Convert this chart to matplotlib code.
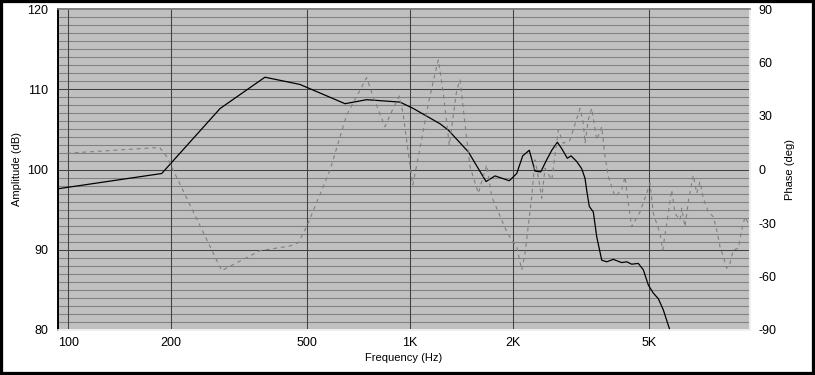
import numpy as np
import matplotlib
matplotlib.use("Agg")
import matplotlib.pyplot as plt
from matplotlib.patches import Rectangle

plt.rcParams['font.family'] = ['Liberation Sans', 'DejaVu Sans']
plt.rcParams['axes.unicode_minus'] = False

# amplitude response (dB), solid black
amp_f = [93.3, 187.6, 278, 376, 476, 645, 746, 934, 1022, 1223, 1294, 1480, 1584,
         1668, 1772, 1951, 2051, 2135, 2232, 2319, 2411, 2509, 2597, 2696, 2777,
         2884, 2957, 3072, 3177, 3249, 3286, 3344, 3436, 3516, 3636, 3761, 3931,
         4159, 4302, 4449, 4651, 4812, 4977, 5146, 5324, 5506, 5733, 5800]
amp_db = [97.6, 99.5, 107.6, 111.5, 110.6, 108.2, 108.7, 108.4, 107.6, 105.7, 104.9,
          102.2, 100.1, 98.5, 99.2, 98.6, 99.5, 101.7, 102.4, 99.8, 99.7, 101.2,
          102.4, 103.4, 102.6, 101.4, 101.7, 101.0, 100.1, 98.9, 97.4, 95.4, 94.7,
          91.6, 88.7, 88.5, 88.8, 88.4, 88.5, 88.2, 88.3, 87.5, 85.6, 84.6, 83.9,
          82.5, 80.2, 79.5]

# phase response (deg), dashed gray
ph_f = [99, 185, 194, 281, 364, 445, 471, 498, 583, 652, 714, 746, 780, 844, 883,
        930, 955, 988, 1018, 1057, 1131, 1183, 1209, 1251, 1302, 1369, 1400, 1447,
        1497, 1583, 1675, 1733, 1917, 1983, 2051, 2121, 2169, 2269, 2319, 2372,
        2427, 2481, 2597, 2714, 2807, 2937, 3141, 3212, 3249, 3321, 3398, 3516,
        3636, 3718, 3802, 3977, 4159, 4253, 4349, 4449, 4706, 4923, 5034, 5146,
        5384, 5483, 5633, 5826, 5957, 6161, 6232, 6371, 6515, 6738, 6894, 7049,
        7208, 7454, 7710, 7888, 8066, 8248, 8437, 8627, 8822, 9125, 9336, 9546, 9759]
ph_deg = [9.1, 12.4, 7.2, -56.7, -45.5, -42.9, -41.0, -32.1, -0.3, 30.6, 44.6, 51.5,
          40.8, 24.0, 32.4, 41.2, 30.6, 9.1, -8.7, 7.2, 37.1, 53.9, 61.5, 42.7, 13.7,
          44.6, 50.2, 25.9, 1.6, -13.3, 2.5, -15.2, -34.9, -39.5, -43.3, -56.3,
          -47.0, -15.2, 5.4, -4.0, -16.1, 0.7, -5.9, 22.2, 14.7, 16.5, 34.3, 25.9,
          14.7, 27.8, 34.3, 16.5, 24.0, 7.2, -4.0, -15.2, -11.5, -4.0, -18.9, -32.1,
          -23.7, -13.3, -7.7, -24.6, -35.8, -45.1, -30.2, -11.5, -24.6, -28.3, -21.8,
          -32.1, -18.0, -3.1, -13.3, -6.8, -16.1, -23.7, -26.5, -33.9, -43.3, -48.9,
          -55.4, -52.6, -45.1, -44.2, -33.9, -26.5, -30.2]

xticks = [100, 200, 500, 1000, 2000, 5000]
xticklabels = ['100', '200', '500', '1K', '2K', '5K']
amp_ticks = [80, 90, 100, 110, 120]
ph_ticks = [-90, -60, -30, 0, 30, 60, 90]

fig = plt.figure(figsize=(8.15, 3.75), dpi=100)
fig.patch.set_facecolor('white')
ax = fig.add_axes([0.0712, 0.12, 0.849, 0.856])
ax.set_facecolor('#c0c0c0')
ax.set_xscale('log')
ax.set_xlim(93.3, 9870)
ax.set_ylim(80, 120)

# grid: minor every 1 dB, major every 10 dB, verticals at labelled freqs
for v in range(81, 120):
    if v % 10 != 0:
        ax.axhline(v, color='#808080', lw=0.75, zorder=1)
for v in [90, 100, 110]:
    ax.axhline(v, color='#404040', lw=0.75, zorder=1)
for f in xticks:
    ax.axvline(f, color='#404040', lw=0.75, zorder=1)

ax.plot(amp_f, amp_db, color='black', lw=0.9, zorder=3, clip_on=True)

ax.set_xticks(xticks)
ax.set_xticklabels(xticklabels)
ax.xaxis.set_minor_locator(matplotlib.ticker.NullLocator())
ax.set_yticks(amp_ticks)
ax.tick_params(axis='both', length=0, labelsize=9)
ax.tick_params(axis='y', pad=7)
ax.tick_params(axis='x', pad=5)
ax.set_xlabel('Frequency (Hz)', fontsize=8, labelpad=3)
ax.set_ylabel('Amplitude (dB)', fontsize=8, labelpad=4)

ax2 = ax.twinx()
ax2.set_ylim(-90, 90)
ax2.plot(ph_f, ph_deg, color='#808080', lw=0.8, ls=(0, (3.5, 3.5)), zorder=2)
ax2.set_yticks(ph_ticks)
ax2.tick_params(axis='y', length=0, labelsize=9, pad=6)
ax2.set_ylabel('Phase (deg)', fontsize=8, labelpad=6)

for a in (ax, ax2):
    a.spines['left'].set_color('black')
    a.spines['top'].set_color('#808080')
    a.spines['bottom'].set_color('#f0f0f0')
    a.spines['right'].set_color('#f0f0f0')
    for s in a.spines.values():
        s.set_linewidth(1.2)

fig.patches.append(Rectangle((0, 0), 1, 1, transform=fig.transFigure,
                             fill=False, edgecolor='black', lw=4.5, zorder=10))

fig.savefig('out.png', dpi=100)
